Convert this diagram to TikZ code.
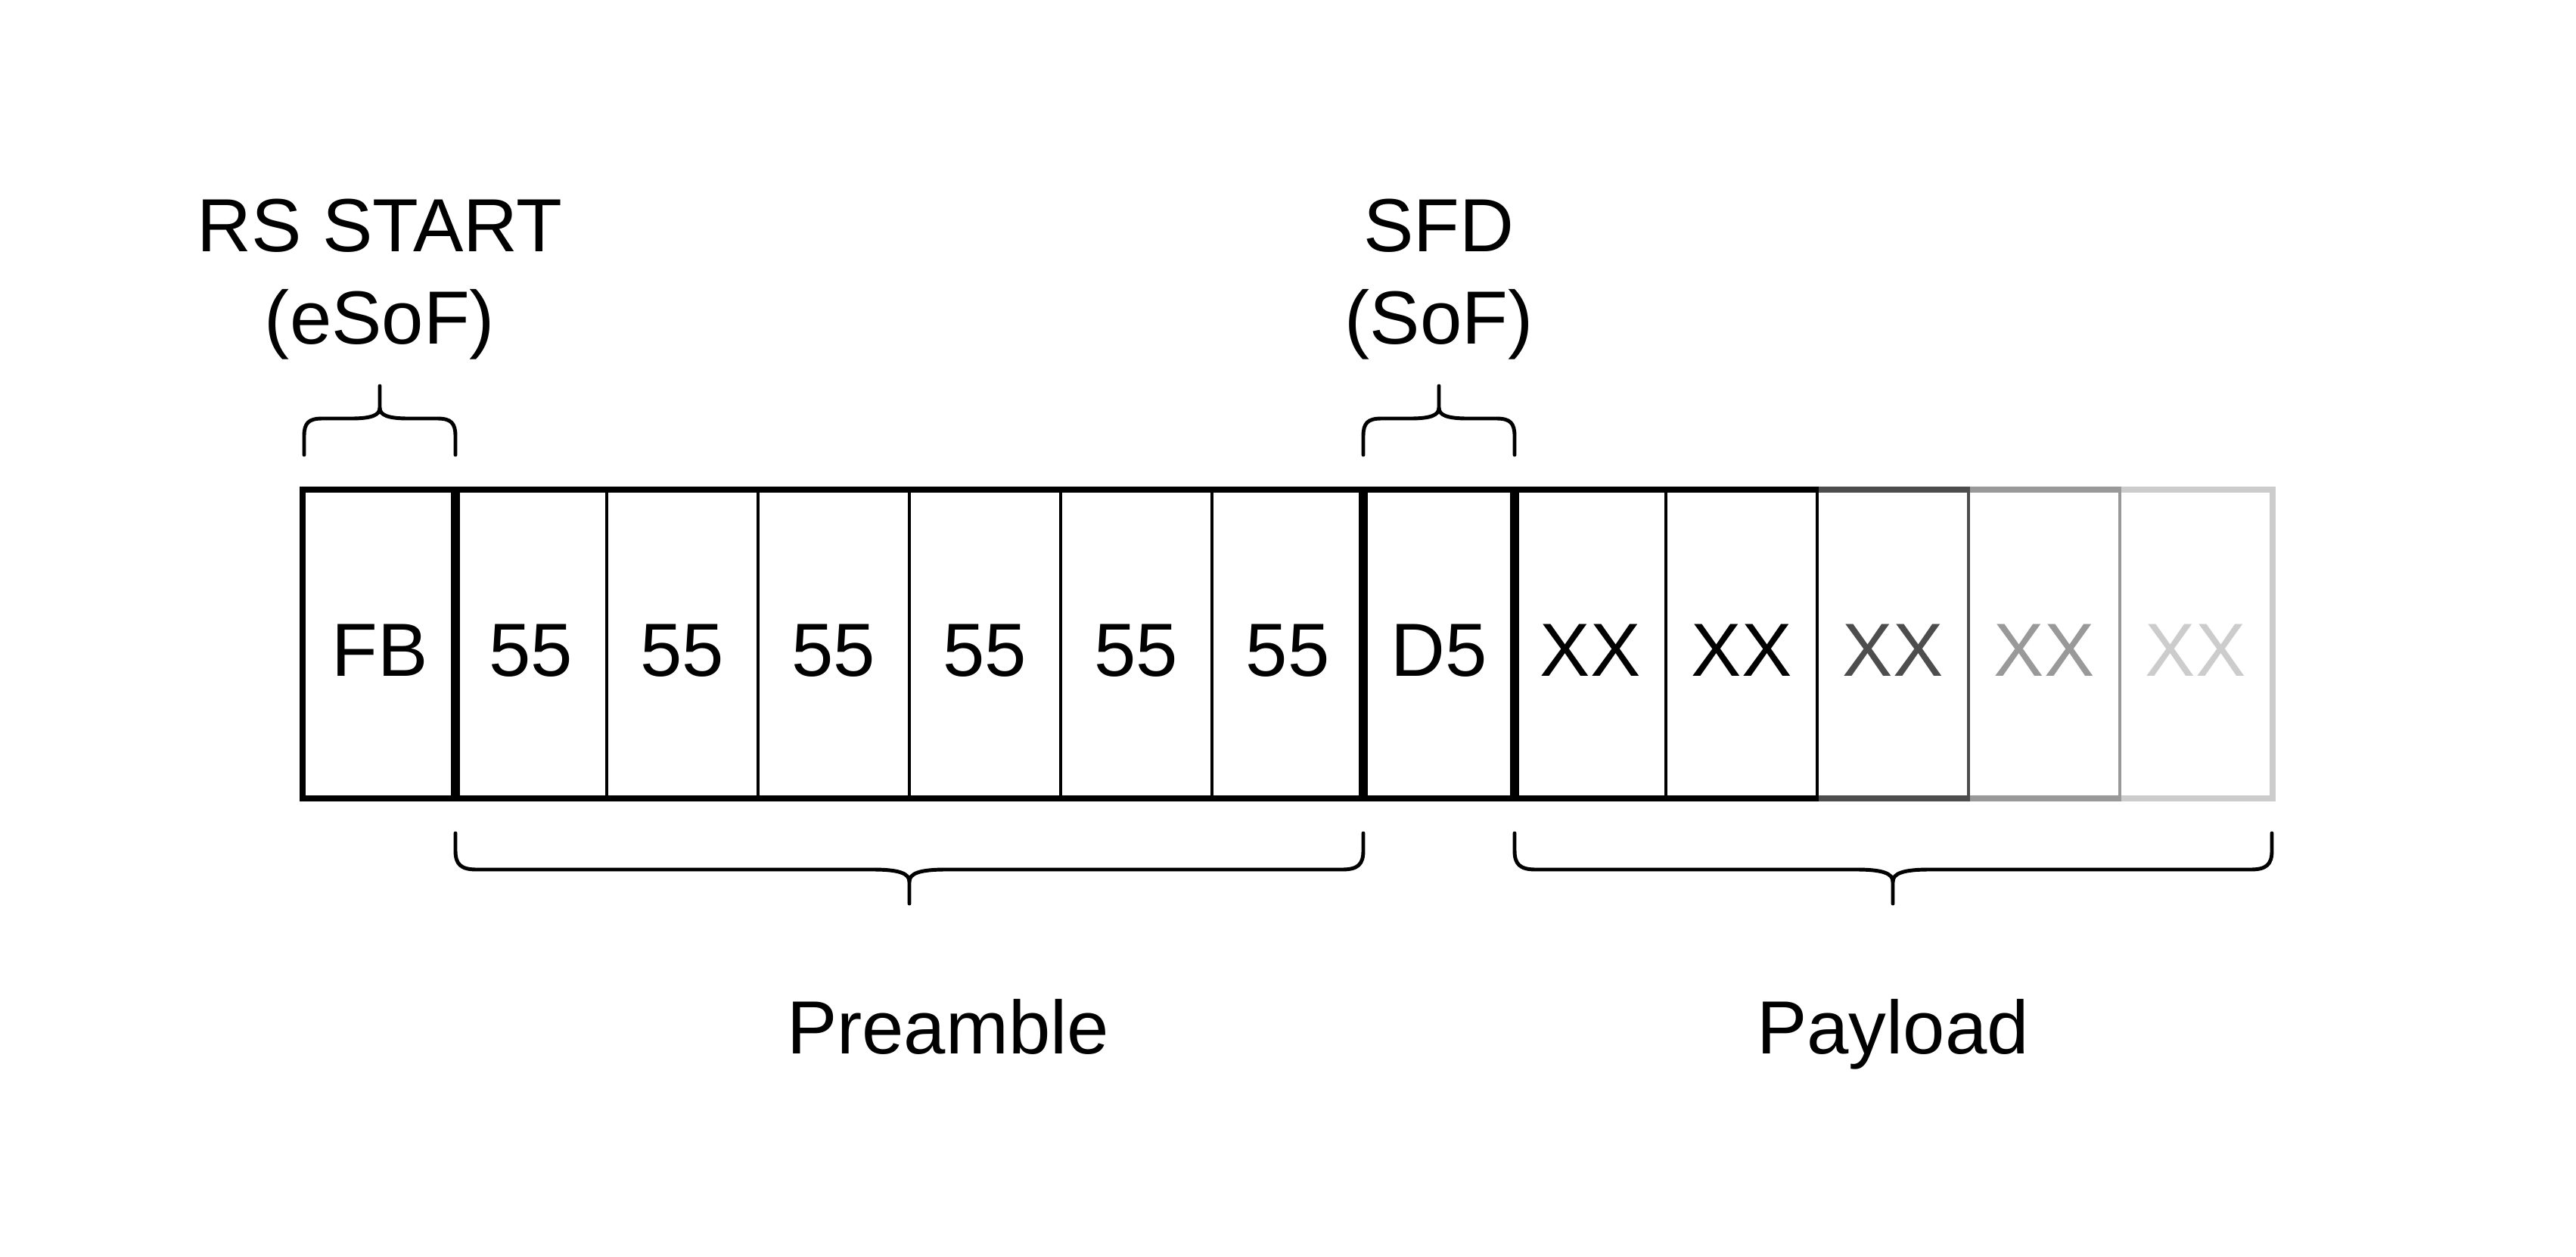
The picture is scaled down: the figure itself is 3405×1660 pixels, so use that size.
\documentclass[tikz,border=0pt]{standalone}
\usepackage{fontspec}
\setmainfont{Liberation Sans}
\definecolor{gA}{HTML}{000000}
\definecolor{gB}{HTML}{4D4D4D}
\definecolor{gC}{HTML}{999999}
\definecolor{gD}{HTML}{CCCCCC}
\begin{document}
\begin{tikzpicture}[x=0.01cm,y=-0.01cm,
  lbl/.style={font=\fontsize{28.3}{34}\selectfont, inner sep=0pt, anchor=base},
  cell/.style={minimum width=2cm, minimum height=4.04cm, inner sep=0pt,
    text height=0.84cm, text depth=0cm, font=\fontsize{28.3}{34}\selectfont, line width=1.1pt},
  heavy/.style={line width=2.3pt},
  bracestyle/.style={line width=1.4pt, line cap=round, line join=round}]
\useasboundingbox[fill=white] (0,0) rectangle (3405,1660);

% cells, drawn right to left so that shared edges take the left cell's colour
\node[cell, draw=gD, text=gD] (c12) at (2902,851) {XX};
\node[cell, draw=gC, text=gC] (c11) at (2702,851) {XX};
\node[cell, draw=gB, text=gB] (c10) at (2502,851) {XX};
\node[cell, draw=gA] (c9) at (2302,851) {XX};
\node[cell, draw=gA] (c8) at (2102,851) {XX};
\node[cell, draw=gA] (c7) at (1902,851) {D5};
\node[cell, draw=gA] (c6) at (1702,851) {55};
\node[cell, draw=gA] (c5) at (1502,851) {55};
\node[cell, draw=gA] (c4) at (1302,851) {55};
\node[cell, draw=gA] (c3) at (1102,851) {55};
\node[cell, draw=gA] (c2) at (902,851) {55};
\node[cell, draw=gA] (c1) at (702,851) {55};
\node[cell, draw=gA] (c0) at (502,851) {FB};

% heavy outlines
\draw[heavy, gD] (c12.north west) -- (c12.north east) -- (c12.south east) -- (c12.south west);
\draw[heavy, gC] (c11.north west) -- (c11.north east) (c11.south west) -- (c11.south east);
\draw[heavy, gB] (c10.north west) -- (c10.north east) (c10.south west) -- (c10.south east);
\draw[heavy, gA] (c9.north east) -- (c8.north west) -- (c8.south west) -- (c9.south east);
\draw[heavy, gA] (c7.north west) rectangle (c7.south east);
\draw[heavy, gA] (c1.north west) rectangle (c6.south east);
\draw[heavy, gA] (c0.north west) rectangle (c0.south east);

% top braces
\draw[bracestyle] (402,601) -- (402,576) .. controls (402,559) and (408,553) .. (426,553) -- (502-38,553) .. controls (502-12,553) and (502,549) .. (502,539) -- (502,510);
\draw[bracestyle] (602,601) -- (602,576) .. controls (602,559) and (596,553) .. (578,553) -- (502+38,553) .. controls (502+12,553) and (502,549) .. (502,539);
\draw[bracestyle] (1802,601) -- (1802,576) .. controls (1802,559) and (1808,553) .. (1826,553) -- (1902-38,553) .. controls (1902-12,553) and (1902,549) .. (1902,539) -- (1902,510);
\draw[bracestyle] (2002,601) -- (2002,576) .. controls (2002,559) and (1996,553) .. (1978,553) -- (1902+38,553) .. controls (1902+12,553) and (1902,549) .. (1902,539);

% bottom braces
\draw[bracestyle] (602,1101) -- (602,1124) .. controls (602,1142) and (609,1149) .. (630,1149) -- (1202-48,1149) .. controls (1202-14,1149) and (1202,1154) .. (1202,1165) -- (1202,1194);
\draw[bracestyle] (1802,1101) -- (1802,1124) .. controls (1802,1142) and (1795,1149) .. (1774,1149) -- (1202+48,1149) .. controls (1202+14,1149) and (1202,1154) .. (1202,1165);
\draw[bracestyle] (2002,1101) -- (2002,1124) .. controls (2002,1142) and (2009,1149) .. (2030,1149) -- (2502-48,1149) .. controls (2502-14,1149) and (2502,1154) .. (2502,1165) -- (2502,1194);
\draw[bracestyle] (3003,1101) -- (3003,1124) .. controls (3003,1142) and (2996,1149) .. (2975,1149) -- (2502+48,1149) .. controls (2502+14,1149) and (2502,1154) .. (2502,1165);

% labels
\node[lbl] (rs1) at (502,332) {RS START};
\node[lbl] (rs2) at (502,454) {(eSoF)};
\node[lbl] (sfd1) at (1902,332) {SFD};
\node[lbl] (sfd2) at (1902,454) {(SoF)};
\node[lbl] (pre) at (1253,1392) {Preamble};
\node[lbl] (pay) at (2502,1392) {Payload};
\end{tikzpicture}
\end{document}
